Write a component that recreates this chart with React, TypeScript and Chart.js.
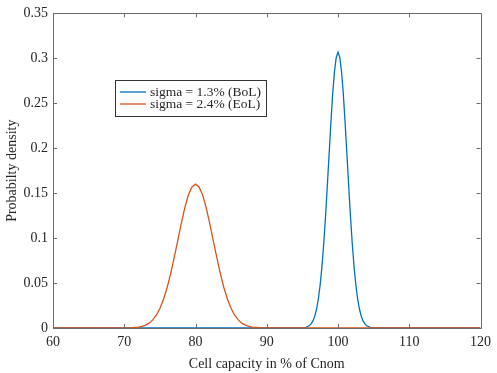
import React, { useEffect, useRef } from "react";
import { Chart, registerables } from "chart.js";

Chart.register(...registerables);

const xTicks = [60, 70, 80, 90, 100, 110, 120];
const yTicks = [0, 0.05, 0.1, 0.15, 0.2, 0.25, 0.3, 0.35];

const bolX = [60, 94, 95, 95.5, 96, 96.25, 96.5, 96.75, 97, 97.25, 97.5, 97.75, 98, 98.25, 98.5, 98.75, 99, 99.25, 99.5, 99.75, 100, 100.25, 100.5, 100.75, 101, 101.25, 101.5, 101.75, 102, 102.25, 102.5, 102.75, 103, 103.25, 103.5, 103.75, 104, 104.5, 105, 106, 120];
const bolY = [0, 0, 0.0001, 0.0008, 0.0027, 0.0048, 0.0082, 0.0135, 0.0214, 0.0328, 0.0484, 0.0686, 0.094, 0.124, 0.158, 0.193, 0.228, 0.26, 0.285, 0.301, 0.307, 0.301, 0.285, 0.26, 0.228, 0.193, 0.158, 0.124, 0.094, 0.0686, 0.0484, 0.0328, 0.0214, 0.0135, 0.0082, 0.0048, 0.0027, 0.0008, 0.0001, 0, 0];

const eolX = [60, 69, 70, 71, 72, 72.5, 73, 73.5, 74, 74.5, 75, 75.5, 76, 76.5, 77, 77.5, 78, 78.5, 79, 79.5, 80, 80.5, 81, 81.5, 82, 82.5, 83, 83.5, 84, 84.5, 85, 85.5, 86, 86.5, 87, 87.5, 88, 89, 90, 91, 120];
const eolY = [0, 0, 0.0002, 0.0004, 0.001, 0.0018, 0.0032, 0.0054, 0.009, 0.0142, 0.0217, 0.0317, 0.0445, 0.06, 0.078, 0.097, 0.116, 0.134, 0.148, 0.157, 0.16, 0.157, 0.148, 0.134, 0.116, 0.097, 0.078, 0.06, 0.0445, 0.0317, 0.0217, 0.0142, 0.009, 0.0054, 0.0032, 0.0018, 0.001, 0.0004, 0.0002, 0, 0];

const seriesNames = ["sigma = 1.3% (BoL)", "sigma = 2.4% (EoL)"];
const colors = ["#0072BD", "#D95319"];

const FONT = "'Liberation Serif', 'Times New Roman', serif";
const AX = "#6b6b6b";

export default function App() {
  const ref = useRef<HTMLCanvasElement | null>(null);
  useEffect(() => {
    document.body.style.margin = "0";
    const canvas = ref.current!;
    const boxPlugin = {
      id: "matlabBox",
      afterDatasetsDraw(chart: any) {
        const { ctx, chartArea: a, scales } = chart;
        ctx.save();
        ctx.strokeStyle = AX;
        ctx.lineWidth = 1;
        ctx.beginPath();
        ctx.rect(Math.round(a.left) + 0.5, Math.round(a.top) + 0.5, Math.round(a.right - a.left), Math.round(a.bottom - a.top));
        ctx.stroke();
        const tl = 4;
        ctx.beginPath();
        for (const v of xTicks) {
          const px = Math.round(scales.x.getPixelForValue(v)) + 0.5;
          ctx.moveTo(px, a.bottom);
          ctx.lineTo(px, a.bottom - tl);
          ctx.moveTo(px, a.top);
          ctx.lineTo(px, a.top + tl);
        }
        for (const v of yTicks) {
          const py = Math.round(scales.y.getPixelForValue(v)) + 0.5;
          ctx.moveTo(a.left, py);
          ctx.lineTo(a.left + tl, py);
          ctx.moveTo(a.right, py);
          ctx.lineTo(a.right - tl, py);
        }
        ctx.stroke();
        // legend
        const lx = 115, ly = 80, lw = 151, lh = 36;
        ctx.fillStyle = "#fff";
        ctx.fillRect(lx, ly, lw, lh);
        ctx.strokeStyle = "#333";
        ctx.strokeRect(lx + 0.5, ly + 0.5, lw, lh);
        ctx.font = `13.5px ${FONT}`;
        ctx.textBaseline = "middle";
        seriesNames.forEach((name, i) => {
          const y = ly + 12 + i * 12;
          ctx.strokeStyle = colors[i];
          ctx.lineWidth = 1.3;
          ctx.beginPath();
          ctx.moveTo(lx + 5, y);
          ctx.lineTo(lx + 31, y);
          ctx.stroke();
          ctx.fillStyle = "#262626";
          ctx.fillText(name, lx + 35, y + 0.5);
        });
        ctx.restore();
      },
    };
    const chart = new Chart(canvas, {
      type: "line",
      data: {
        datasets: [
          {
            label: seriesNames[0],
            data: bolX.map((x, i) => ({ x, y: bolY[i] })),
            borderColor: colors[0],
            borderWidth: 1.3,
            pointRadius: 0,
            tension: 0,
            order: 1,
          },
          {
            label: seriesNames[1],
            data: eolX.map((x, i) => ({ x, y: eolY[i] })),
            borderColor: colors[1],
            borderWidth: 1.3,
            pointRadius: 0,
            tension: 0,
            order: 0,
          },
        ],
      },
      options: {
        animation: false,
        responsive: false,
        layout: { padding: { left: 0, top: 12, right: 10, bottom: 0 } },
        plugins: { legend: { display: false }, tooltip: { enabled: false } },
        scales: {
          x: {
            type: "linear",
            min: 60,
            max: 120,
            afterBuildTicks: (s: any) => {
              s.ticks = xTicks.map((v) => ({ value: v }));
            },
            afterFit: (s: any) => {
              s.height = 45;
            },
            grid: { display: false, drawTicks: false },
            border: { display: false },
            ticks: {
              color: "#262626",
              font: { family: FONT, size: 14 },
              padding: 6,
              maxRotation: 0,
              callback: (v: any) => String(v),
            },
            title: {
              display: true,
              text: "Cell capacity in % of Cnom",
              color: "#262626",
              font: { family: FONT, size: 14 },
              padding: { top: 2, bottom: 0 },
            },
          },
          y: {
            type: "linear",
            min: 0,
            max: 0.35,
            afterBuildTicks: (s: any) => {
              s.ticks = yTicks.map((v) => ({ value: v }));
            },
            afterFit: (s: any) => {
              s.width = 53;
            },
            grid: { display: false, drawTicks: false },
            border: { display: false },
            ticks: {
              color: "#262626",
              font: { family: FONT, size: 14 },
              padding: 5,
              callback: (v: any) => String(parseFloat(Number(v).toFixed(2))),
            },
            title: {
              display: true,
              text: "Probabilty density",
              color: "#262626",
              font: { family: FONT, size: 14 },
              padding: { top: 4, bottom: 0 },
            },
          },
        },
      },
      plugins: [boxPlugin],
    });
    return () => chart.destroy();
  }, []);
  return <canvas ref={ref} width={497} height={373} style={{ display: "block" }} />;
}
